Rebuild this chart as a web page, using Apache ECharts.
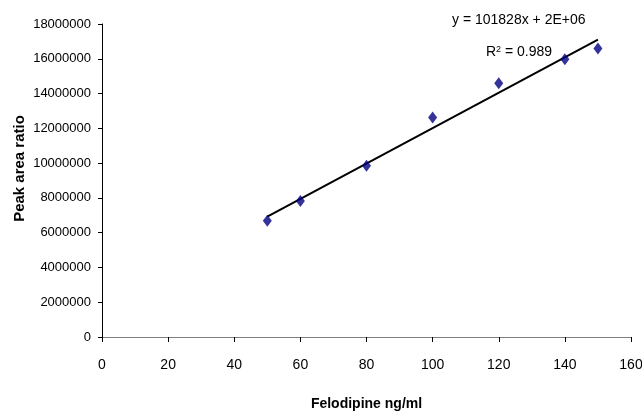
<!DOCTYPE html>
<html><head><meta charset="utf-8">
<script src="https://cdn.jsdelivr.net/npm/echarts@6/dist/echarts.min.js"></script>
<style>html,body{margin:0;padding:0;background:#fff}#c{width:642px;height:417px}</style>
</head><body><div id="c"></div>
<script>
const concentrations = [50, 60, 80, 100, 120, 140, 150];
const peakAreaRatio = [6680000, 7820000, 9850000, 12620000, 14590000, 15970000, 16590000];
const xTicks = {min: 0, max: 160, interval: 20};
const yTicks = {min: 0, max: 18000000, interval: 2000000};
const equationText = 'y = 101828x + 2E+06';
const r2Text = '0.989';

// least-squares trendline from the data
const n = concentrations.length;
const mx = concentrations.reduce((a,b)=>a+b,0)/n;
const my = peakAreaRatio.reduce((a,b)=>a+b,0)/n;
let sxy=0,sxx=0;
for(let i=0;i<n;i++){sxy+=(concentrations[i]-mx)*(peakAreaRatio[i]-my);sxx+=(concentrations[i]-mx)**2;}
const slope=sxy/sxx, icpt=my-slope*mx;
const x0=Math.min(...concentrations), x1=Math.max(...concentrations);
const trend=[[x0,slope*x0+icpt],[x1,slope*x1+icpt]];

const FONT='"Liberation Sans",Arial,sans-serif';
const chart=echarts.init(document.getElementById('c'),null,{renderer:'canvas'});
chart.setOption({
  backgroundColor:'#fff',
  animation:false,
  textStyle:{fontFamily:FONT},
  grid:{left:102,right:11,top:24,bottom:80,containLabel:false,outerBoundsMode:'none'},
  xAxis:{type:'value',min:xTicks.min,max:xTicks.max,interval:xTicks.interval,
    name:'Felodipine ng/ml',nameLocation:'middle',nameGap:60,nameMoveOverlap:false,
    nameTextStyle:{fontFamily:FONT,fontWeight:'bold',fontSize:14,color:'#000'},
    axisLine:{onZero:false,lineStyle:{color:'#808080',width:1}},
    axisTick:{show:true,length:5,lineStyle:{color:'#000'}},
    axisLabel:{margin:21,fontSize:14,color:'#000',fontFamily:FONT},
    splitLine:{show:false}},
  yAxis:{type:'value',min:yTicks.min,max:yTicks.max,interval:yTicks.interval,
    name:'Peak area ratio',nameLocation:'middle',nameGap:75,nameRotate:90,nameMoveOverlap:false,
    nameTextStyle:{fontFamily:FONT,fontWeight:'bold',fontSize:15,color:'#000',padding:[0,0,0,24]},
    axisLine:{show:true,lineStyle:{color:'#000',width:1}},
    axisTick:{show:true,length:4,lineStyle:{color:'#000'}},
    axisLabel:{margin:11,fontSize:13,color:'#000',fontFamily:FONT,formatter:v=>String(v)},
    splitLine:{show:false}},
  series:[
    {type:'line',data:trend,symbol:'none',lineStyle:{color:'#000',width:2},z:2,silent:true},
    {type:'scatter',data:concentrations.map((x,i)=>[x,peakAreaRatio[i]]),symbol:'diamond',symbolSize:[9,12],
      itemStyle:{color:'#000080'},z:3}
  ],
  graphic:[
    {type:'text',left:452,top:13,style:{text:equationText,font:'14px '+FONT,fill:'#000'}},
    {type:'text',left:486,top:45,style:{text:'{a|R}{s|2}{a| = '+r2Text+'}',
      rich:{a:{fontSize:14,fontFamily:FONT,color:'#000'},s:{fontSize:9,fontFamily:FONT,verticalAlign:'top',color:'#000',padding:[0,0,6,0]}}}}
  ]
});
</script></body></html>
